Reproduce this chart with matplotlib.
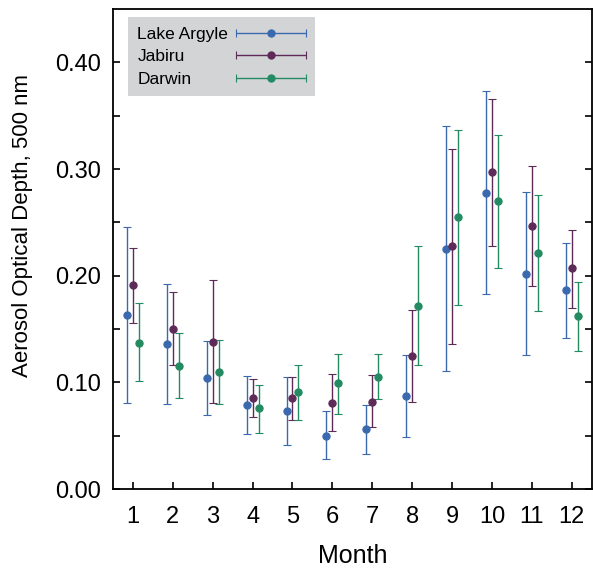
import matplotlib
matplotlib.use('Agg')
import matplotlib.pyplot as plt
import numpy as np
from matplotlib.legend_handler import HandlerErrorbar
from matplotlib.transforms import Bbox

plt.rcParams['font.family'] = ['Liberation Sans', 'DejaVu Sans']

months = list(range(1, 13))

# mean AOD and error bar ends (upper / lower)
argyle = [0.163, 0.136, 0.104, 0.079, 0.073, 0.050, 0.056, 0.087, 0.225, 0.278, 0.202, 0.187]
argyle_hi = [0.246, 0.192, 0.139, 0.106, 0.105, 0.073, 0.079, 0.126, 0.340, 0.373, 0.279, 0.231]
argyle_lo = [0.081, 0.080, 0.069, 0.052, 0.041, 0.028, 0.033, 0.049, 0.111, 0.183, 0.126, 0.142]

jabiru = [0.191, 0.150, 0.138, 0.085, 0.085, 0.081, 0.082, 0.125, 0.228, 0.297, 0.247, 0.207]
jabiru_hi = [0.226, 0.185, 0.196, 0.103, 0.105, 0.108, 0.107, 0.168, 0.319, 0.366, 0.303, 0.243]
jabiru_lo = [0.156, 0.116, 0.081, 0.068, 0.065, 0.054, 0.058, 0.082, 0.136, 0.228, 0.190, 0.170]

darwin = [0.137, 0.115, 0.110, 0.076, 0.091, 0.099, 0.105, 0.172, 0.255, 0.270, 0.221, 0.162]
darwin_hi = [0.174, 0.146, 0.140, 0.098, 0.116, 0.127, 0.127, 0.228, 0.337, 0.332, 0.276, 0.194]
darwin_lo = [0.101, 0.085, 0.080, 0.053, 0.065, 0.070, 0.084, 0.116, 0.173, 0.207, 0.167, 0.129]

series = [
    ('Lake Argyle', argyle, argyle_hi, argyle_lo, '#3a6aad', -0.15),
    ('Jabiru', jabiru, jabiru_hi, jabiru_lo, '#5e2a58', 0.0),
    ('Darwin', darwin, darwin_hi, darwin_lo, '#238a62', 0.15),
]

fig = plt.figure(figsize=(5.93, 5.72), dpi=100)
ax = fig.add_axes([0.1906, 0.145, 0.807, 0.839])

style = dict(fmt='o', ms=5.2, mew=0.8, elinewidth=1.0, capsize=2.8, capthick=1.0)
handles = []
for name, y, hi, lo, col, off in series:
    y = np.array(y)
    yerr = [y - np.array(lo), np.array(hi) - y]
    x = np.array(months) + off
    ax.errorbar(x, y, yerr=yerr, color=col, **style)
    # horizontal proxy for the legend, like the original key
    h = ax.errorbar([np.nan], [np.nan], xerr=[1.0], color=col, label=name, **style)
    handles.append(h)

ax.set_xlim(0.5, 12.5)
ax.set_ylim(0, 0.45)
ax.set_xticks(months)
ax.set_yticks([0, 0.1, 0.2, 0.3, 0.4])
ax.set_yticklabels(['0.00', '0.10', '0.20', '0.30', '0.40'])
ax.set_yticks(np.arange(0.05, 0.45, 0.1), minor=True)
ax.tick_params(axis='both', which='major', direction='in', length=5, width=1.2,
               labelsize=17, right=True, top=False)
ax.tick_params(axis='y', which='minor', direction='in', length=5, width=1.2, right=True)
ax.tick_params(axis='x', pad=12.5)
ax.tick_params(axis='y', pad=9)
for s in ax.spines.values():
    s.set_linewidth(1.3)

ax.set_xlabel('Month', fontsize=18, labelpad=11)
ax.set_ylabel('Aerosol Optical Depth, 500 nm', fontsize=16)
ax.yaxis.set_label_coords(-0.167, 0.55)

hl = 4.0
leg = ax.legend(handles=handles, loc='upper left', markerfirst=False, fontsize=12.5,
                handlelength=hl, frameon=True, fancybox=False, borderpad=0.55,
                labelspacing=0.42, handletextpad=0.45, borderaxespad=0,
                bbox_to_anchor=(0.031, 0.983),
                handler_map={type(handles[0]): HandlerErrorbar(xerr_size=hl / 2)})
leg.get_frame().set_facecolor('#d3d4d6')
leg.get_frame().set_edgecolor('none')
leg.get_frame().set_alpha(1)

# left-align the label texts so the keys line up in one column
fig.canvas.draw()
renderer = fig.canvas.get_renderer()
areas = []
for col in leg._legend_handle_box.get_children():
    for row in col.get_children():
        areas.append(row.get_children()[0])
wmax = max(a.get_bbox(renderer).width for a in areas)


def fixed_width(area, w):
    orig = area.get_bbox

    def get_bbox(rend):
        b = orig(rend)
        return Bbox.from_bounds(b.x0, b.y0, w, b.height)
    area.get_bbox = get_bbox


for a in areas:
    fixed_width(a, wmax)

fig.savefig('out.png', dpi=100)
